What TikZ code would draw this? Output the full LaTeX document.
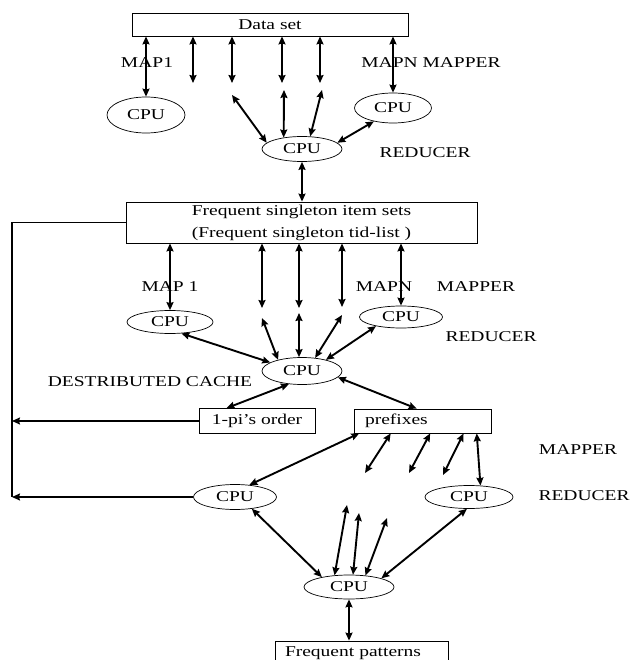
\documentclass[tikz,border=0pt]{standalone}
\usepackage{fontspec}
\setmainfont{Liberation Serif}[FakeStretch=1.3]
\usetikzlibrary{arrows.meta,shapes.geometric}

\begin{document}
\begin{tikzpicture}[x=1pt,y=-1pt,
    every node/.style={font=\fontsize{15}{22}\selectfont,inner sep=0pt},
    box/.style={draw,line width=0.8pt,rectangle},
    cpu/.style={draw,line width=0.7pt,ellipse},
    biarrow/.style={{Stealth[length=8pt,width=7pt,inset=1pt]}-{Stealth[length=8pt,width=7pt,inset=1pt]},line width=1.9pt},
    feedarrow/.style={-{Stealth[length=8pt,width=7pt,inset=1pt]},line width=1.5pt}]
    \clip (0,0) rectangle (631,660);
    \node[box,minimum width=276pt,minimum height=23pt] (ds) at (270,24.5) {Data set};
    \node[cpu,minimum width=78pt,minimum height=36pt] (cpu1) at (146,115) {CPU};
    \node[cpu,minimum width=77pt,minimum height=30pt] (cpu2) at (393,108) {CPU};
    \node[cpu,minimum width=80pt,minimum height=25pt] (cpu3) at (302,149) {CPU};
    \node[box,minimum width=351pt,minimum height=41pt,align=center] (fs) at (301.5,222.5) {Frequent singleton item sets\\(Frequent singleton tid-list )};
    \node[cpu,minimum width=86pt,minimum height=23pt] (cpu4) at (170,322) {CPU};
    \node[cpu,minimum width=83pt,minimum height=22pt] (cpu5) at (401,317) {CPU};
    \node[cpu,minimum width=80pt,minimum height=27pt] (cpu6) at (302,371) {CPU};
    \node[box,minimum width=116pt,minimum height=25pt] (order) at (257,421) {1-pi’s order};
    \node[box,minimum width=137pt,minimum height=24pt,text width=116pt,align=left] (pre) at (423,421) {prefixes};
    \node[cpu,minimum width=83pt,minimum height=25pt] (cpu7) at (235,497) {CPU};
    \node[cpu,minimum width=88pt,minimum height=23pt] (cpu8) at (469,497) {CPU};
    \node[cpu,minimum width=90pt,minimum height=24pt] (cpu9) at (349,587) {CPU};
    \node[box,minimum width=173pt,minimum height=24pt,text width=153pt,align=left] (fp) at (361.5,653) {Frequent patterns};
    \node (map1) at (147,63) {MAP1};
    \node (mapn) at (431,63) {MAPN MAPPER};
    \node (red1) at (425,153) {REDUCER};
    \node (map2) at (170,287) {MAP 1};
    \node (mapn2) at (384,287) {MAPN};
    \node (mapper2) at (476,287) {MAPPER};
    \node (red2) at (491,337) {REDUCER};
    \node (cache) at (150,382) {DESTRIBUTED CACHE};
    \node (mapper3) at (578,450) {MAPPER};
    \node (red3) at (584,496) {REDUCER};
    \coordinate (t2) at (193,83);
    \coordinate (t3) at (232,83);
    \coordinate (t4) at (282,83);
    \coordinate (t5) at (320,83);
    \coordinate (r1) at (232,95);
    \coordinate (r2) at (284,90);
    \coordinate (r3) at (322,90);
    \coordinate (m2) at (262,308);
    \coordinate (m3) at (299,308);
    \coordinate (m4) at (342,307);
    \coordinate (u1) at (262,318);
    \coordinate (u2) at (299,313);
    \coordinate (u3) at (342,315);
    \coordinate (p1) at (365,473);
    \coordinate (p2) at (409,473);
    \coordinate (p3) at (443,475);
    \coordinate (q1) at (347,505);
    \coordinate (q2) at (359,513);
    \coordinate (q3) at (387,518);
    \coordinate (fb) at (12,0);
    \draw[biarrow] (ds.south -| cpu1.north) -- (cpu1.north);
    \draw[biarrow] (ds.south -| t2) -- (t2);
    \draw[biarrow] (ds.south -| t3) -- (t3);
    \draw[biarrow] (ds.south -| t4) -- (t4);
    \draw[biarrow] (ds.south -| t5) -- (t5);
    \draw[biarrow] (ds.south -| cpu2.north) -- (cpu2.north);
    \draw[biarrow] (r1) -- (cpu3.170);
    \draw[biarrow] (r2) -- (cpu3.148);
    \draw[biarrow] (r3) -- (cpu3.57);
    \draw[biarrow] (cpu2.215) -- (cpu3.10);
    \draw[biarrow] (cpu3.south) -- (fs.north -| cpu3.south);
    \draw[biarrow] (fs.south -| cpu4.north) -- (cpu4.north);
    \draw[biarrow] (fs.south -| m2) -- (m2);
    \draw[biarrow] (fs.south -| m3) -- (m3);
    \draw[biarrow] (fs.south -| m4) -- (m4);
    \draw[biarrow] (fs.south -| cpu5.north) -- (cpu5.north);
    \draw[biarrow] (u1) -- (cpu6.155);
    \draw[biarrow] (u2) -- (u2 |- cpu6.north);
    \draw[biarrow] (u3) -- (cpu6.45);
    \draw[biarrow] (cpu4.-45) -- (cpu6.165);
    \draw[biarrow] (cpu5.200) -- (cpu6.25);
    \draw[biarrow] (cpu6.225) -- (order.157);
    \draw[biarrow] (cpu6.-10) -- (pre.117);
    \draw[biarrow] (pre.191) -- (cpu7.40);
    \draw[biarrow] (pre.201) -- (p1);
    \draw[biarrow] (pre.300) -- (p2);
    \draw[biarrow] (pre.343) -- (p3);
    \draw[biarrow] (pre.347.5) -- (cpu8.45);
    \draw[biarrow] (cpu7.-35) -- (cpu9.160);
    \draw[biarrow] (cpu9.141) -- (q1);
    \draw[biarrow] (cpu9.72) -- (q2);
    \draw[biarrow] (cpu9.35) -- (q3);
    \draw[biarrow] (cpu8.260) -- (cpu9.15);
    \draw[biarrow] (cpu9.south) -- (fp.north -| cpu9.south);
    \draw[line width=1.2pt] (fs.west) -| (fb |- cpu7.west);
    \draw[feedarrow] (order.west) -- (order.west -| fb);
    \draw[feedarrow] (cpu7.west) -- (cpu7.west -| fb);
\end{tikzpicture}
\end{document}
